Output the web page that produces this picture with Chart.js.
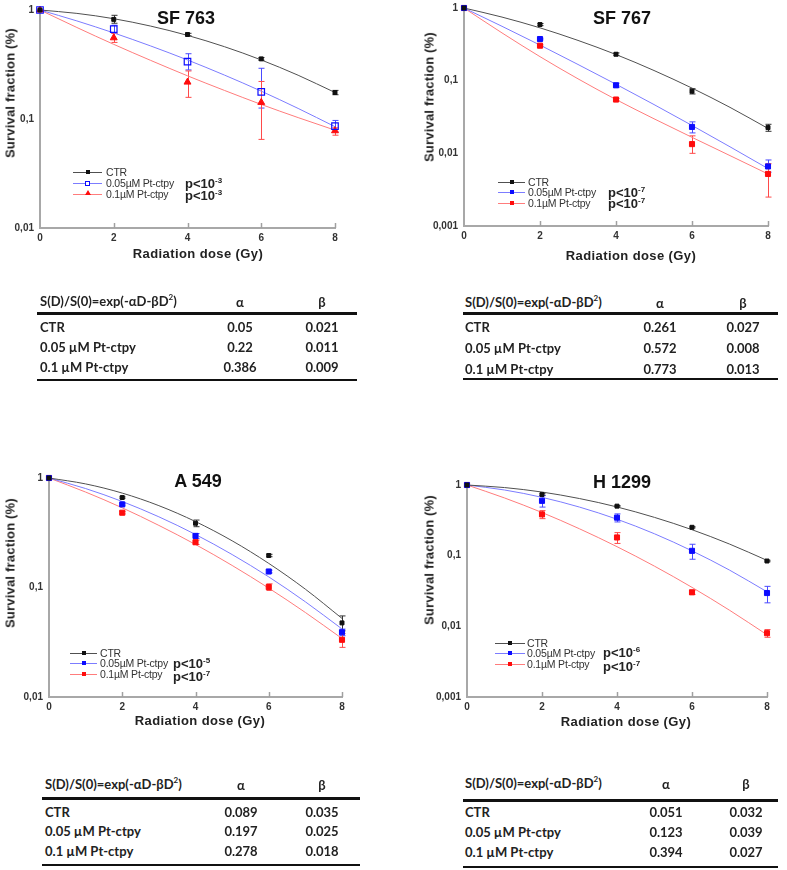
<!DOCTYPE html>
<html><head><meta charset="utf-8">
<script src="https://cdn.jsdelivr.net/npm/chart.js@4.4.1/dist/chart.umd.min.js"></script>
<style>
html,body{margin:0;padding:0;background:#fff;}
body{width:787px;height:870px;position:relative;overflow:hidden;font-family:"Liberation Sans",Arial,sans-serif;}
.abs{position:absolute;white-space:nowrap;}
.title{font-weight:bold;font-size:18px;color:#111;transform:translate(-50%,-50%);}
.ytitle{font-weight:bold;font-size:13px;color:#222;transform:translate(-50%,-50%) rotate(-90deg);letter-spacing:0.2px;}
.xtitle{font-weight:bold;font-size:13px;color:#222;transform:translate(-50%,-50%);letter-spacing:0.4px;}
.leg{font-size:10.5px;color:#333;transform:translateY(-50%);letter-spacing:-0.2px;}
.pval{font-weight:bold;font-size:13px;color:#222;transform:translateY(-50%);}
.pval sup{font-size:8px;vertical-align:5px;}
.tb{font-family:Lato,"Open Sans",sans-serif;font-weight:bold;font-size:13px;color:#222;transform:translateY(-50%);}
.tbc{font-family:Lato,"Open Sans",sans-serif;font-weight:bold;font-size:13px;color:#222;transform:translate(-50%,-50%);}
.tb sup{font-size:8px;vertical-align:6px;}
.rule{position:absolute;background:#111;}
</style>
</head><body>
<script>
// ================= DATA =================
const doses = [0, 2, 4, 6, 8];
const fitDoses = [0, 1, 2, 3, 4, 5, 6, 7, 8];
const xTickLabels = ['0', '2', '4', '6', '8'];
const yTicks2 = [0.01, 0.1, 1];
const yTickLabels2 = ['0,01', '0,1', '1'];
const yTicks3 = [0.001, 0.01, 0.1, 1];
const yTickLabels3 = ['0,001', '0,01', '0,1', '1'];
const legendLabels = ['CTR', '0.05µM Pt-ctpy', '0.1µM Pt-ctpy'];
const tableRowLabels = ['CTR', '0.05 µM Pt-ctpy', '0.1 µM Pt-ctpy'];
const tableHeader = 'S(D)/S(0)=exp(-αD-βD<sup>2</sup>)';

// SF 763
const sf763CtrPts  = [1, 0.82, 0.596, 0.356, 0.175];
const sf763CtrErr  = [[0,0],[0.064,0.074],[0.015,0.015],[0.01,0.01],[0.008,0.008]];
const sf763CtrFit  = [1, 0.931, 0.832, 0.712, 0.585, 0.461, 0.348, 0.252, 0.175];
const sf763BluePts = [1, 0.667, 0.336, 0.177, 0.086];
const sf763BlueErr = [[0,0],[0.058,0.058],[0.054,0.061],[0.051,0.115],[0.0096,0.011]];
const sf763BlueFit = [1, 0.794, 0.616, 0.468, 0.348, 0.253, 0.180, 0.125, 0.085];
const sf763RedPts  = [1, 0.556, 0.218, 0.142, 0.078];
const sf763RedErr  = [[0,0],[0.052,0.053],[0.06,0.058],[0.077,0.079],[0.007,0.005]];
const sf763RedFit  = [1, 0.691, 0.484, 0.345, 0.249, 0.183, 0.136, 0.103, 0.079];
const sf763Alpha = ['0.05', '0.22', '0.386'];
const sf763Beta  = ['0.021', '0.011', '0.009'];
const sf763P     = ['-3', '-3'];

// SF 767
const sf767CtrPts  = [1, 0.592, 0.231, 0.0716, 0.0226];
const sf767CtrErr  = [[0,0],[0.02,0.02],[0.01,0.01],[0.006,0.006],[0.0025,0.0025]];
const sf767CtrFit  = [1, 0.750, 0.533, 0.358, 0.229, 0.138, 0.079, 0.0429, 0.022];
const sf767BluePts = [1, 0.374, 0.0864, 0.0231, 0.0066];
const sf767BlueErr = [[0,0],[0.01,0.01],[0.006,0.006],[0.004,0.004],[0.0011,0.0015]];
const sf767BlueFit = [1, 0.560, 0.309, 0.167, 0.0893, 0.0469, 0.0242, 0.0123, 0.00617];
const sf767RedPts  = [1, 0.303, 0.055, 0.0134, 0.0052];
const sf767RedErr  = [[0,0],[0.008,0.008],[0.002,0.002],[0.0034,0.004],[0.0027,0.002]];
const sf767RedFit  = [1, 0.454, 0.214, 0.106, 0.055, 0.0299, 0.0166, 0.0093, 0.0052];
const sf767Alpha = ['0.261', '0.572', '0.773'];
const sf767Beta  = ['0.027', '0.008', '0.013'];
const sf767P     = ['-7', '-7'];

// A 549
const a549CtrPts  = [1, 0.663, 0.386, 0.196, 0.0475];
const a549CtrErr  = [[0,0],[0.01,0.01],[0.027,0.027],[0.005,0.005],[0.0073,0.0075]];
const a549CtrFit  = [1, 0.883, 0.728, 0.559, 0.400, 0.267, 0.166, 0.0965, 0.0522];
const a549BluePts = [1, 0.574, 0.296, 0.14, 0.039];
const a549BlueErr = [[0,0],[0.01,0.01],[0.015,0.015],[0.004,0.004],[0.0027,0.0027]];
const a549BlueFit = [1, 0.801, 0.610, 0.442, 0.305, 0.200, 0.125, 0.074, 0.0418];
const a549RedPts  = [1, 0.482, 0.259, 0.101, 0.0333];
const a549RedErr  = [[0,0],[0.012,0.012],[0.012,0.012],[0.007,0.007],[0.0049,0.0047]];
const a549RedFit  = [1, 0.744, 0.534, 0.369, 0.247, 0.159, 0.0987, 0.0591, 0.0342];
const a549Alpha = ['0.089', '0.197', '0.278'];
const a549Beta  = ['0.035', '0.025', '0.018'];
const a549P     = ['-5', '-7'];

// H 1299
const h1299CtrPts  = [1, 0.732, 0.502, 0.252, 0.084];
const h1299CtrErr  = [[0,0],[0.02,0.02],[0.01,0.01],[0.005,0.005],[0.002,0.002]];
const h1299CtrFit  = [1, 0.920, 0.795, 0.643, 0.489, 0.348, 0.233, 0.146, 0.0858];
const h1299BluePts = [1, 0.597, 0.345, 0.117, 0.0296];
const h1299BlueErr = [[0,0],[0.11,0.11],[0.045,0.045],[0.028,0.028],[0.0081,0.0072]];
const h1299BlueFit = [1, 0.850, 0.669, 0.487, 0.328, 0.204, 0.117, 0.0625, 0.0308];
const h1299RedPts  = [1, 0.384, 0.181, 0.0303, 0.008];
const h1299RedErr  = [[0,0],[0.05,0.05],[0.032,0.031],[0.002,0.002],[0.001,0.001]];
const h1299RedFit  = [1, 0.656, 0.408, 0.240, 0.134, 0.071, 0.0356, 0.0169, 0.0076];
const h1299Alpha = ['0.051', '0.123', '0.394'];
const h1299Beta  = ['0.032', '0.039', '0.027'];
const h1299P     = ['-6', '-7'];

// ================= STYLES / LAYOUT =================
const baseStyles = {
  ctr:  {line:'#505050', point:'#111111', err:'#333333', pointStyle:'rect', radius:2.8, open:false},
  blue: {line:'#7c7cff', point:'#0c0cff', err:'#4a4aff', pointStyle:'rect', radius:3.6, open:false},
  red:  {line:'#ff7c7c', point:'#ff0c0c', err:'#ff4a4a', pointStyle:'rect', radius:3.6, open:false}
};
const sf763Styles = {
  ctr: baseStyles.ctr,
  blue: Object.assign({}, baseStyles.blue, {pointStyle:'rect', radius:4.6, open:true}),
  red: Object.assign({}, baseStyles.red, {pointStyle:'triangle', radius:4})
};

const panels = [
  {title:'SF 763', titlePos:[186,18], yTitlePos:[10,93], xTitlePos:[198,253],
   area:{l:40, r:335, t:8, b:228}, yMin:0.01, yTicks:yTicks2, yLabels:yTickLabels2,
   series:[[sf763CtrPts,sf763CtrErr,sf763CtrFit],[sf763BluePts,sf763BlueErr,sf763BlueFit],[sf763RedPts,sf763RedErr,sf763RedFit]],
   styles:sf763Styles, p:sf763P,
   legend:{x0:73, x1:102, tx:106, ys:[172,183,194], px:185, pys:[183,195]},
   table:{x:40, lx:37, rx:357, hy:300, l1:313, rows:[327,347,367], l2:380, ax:240, bx:322},
   alpha:sf763Alpha, beta:sf763Beta},
  {title:'SF 767', titlePos:[622,18], yTitlePos:[429,97], xTitlePos:[631,255],
   area:{l:464, r:768, t:6, b:226}, yMin:0.001, yTicks:yTicks3, yLabels:yTickLabels3,
   series:[[sf767CtrPts,sf767CtrErr,sf767CtrFit],[sf767BluePts,sf767BlueErr,sf767BlueFit],[sf767RedPts,sf767RedErr,sf767RedFit]],
   styles:baseStyles, p:sf767P,
   legend:{x0:498, x1:525, tx:528, ys:[182,192,203], px:608, pys:[192,203]},
   table:{x:465, lx:463, rx:778, hy:301, l1:313, rows:[327,348,369], l2:379, ax:660, bx:743},
   alpha:sf767Alpha, beta:sf767Beta},
  {title:'A 549', titlePos:[198,481], yTitlePos:[10,563], xTitlePos:[200,720],
   area:{l:49, r:342, t:476, b:697}, yMin:0.01, yTicks:yTicks2, yLabels:yTickLabels2,
   series:[[a549CtrPts,a549CtrErr,a549CtrFit],[a549BluePts,a549BlueErr,a549BlueFit],[a549RedPts,a549RedErr,a549RedFit]],
   styles:baseStyles, p:a549P,
   legend:{x0:70, x1:97, tx:100, ys:[653,663,674], px:173, pys:[663,676]},
   table:{x:45, lx:42, rx:360, hy:783, l1:798, rows:[812,831,851], l2:865, ax:241, bx:322},
   alpha:a549Alpha, beta:a549Beta},
  {title:'H 1299', titlePos:[622,482], yTitlePos:[429,560], xTitlePos:[626,721],
   area:{l:467, r:767, t:483, b:697}, yMin:0.001, yTicks:yTicks3, yLabels:yTickLabels3,
   series:[[h1299CtrPts,h1299CtrErr,h1299CtrFit],[h1299BluePts,h1299BlueErr,h1299BlueFit],[h1299RedPts,h1299RedErr,h1299RedFit]],
   styles:baseStyles, p:h1299P,
   legend:{x0:495, x1:525, tx:527, ys:[643,653,664], px:603, pys:[652,666]},
   table:{x:465, lx:463, rx:778, hy:782, l1:800, rows:[812,832,852], l2:867, ax:666, bx:746},
   alpha:h1299Alpha, beta:h1299Beta}
];

// ================= RENDER =================
const errorBarPlugin = {
  id:'errbars',
  beforeDatasetsDraw(chart){
    const {ctx, scales:{x, y}} = chart;
    ctx.save();
    chart.data.datasets.forEach(ds => {
      if (!ds.errBars) return;
      ctx.strokeStyle = ds.errColor; ctx.lineWidth = 1;
      ds.data.forEach((pt, i) => {
        const [dn, up] = ds.errBars[i];
        if (!dn && !up) return;
        const px = Math.round(x.getPixelForValue(pt.x)) + 0.5;
        const yt = y.getPixelForValue(pt.y + up);
        const yb = y.getPixelForValue(Math.max(pt.y - dn, 1e-6));
        ctx.beginPath();
        ctx.moveTo(px, yt); ctx.lineTo(px, yb);
        ctx.moveTo(px - 3, yt); ctx.lineTo(px + 3, yt);
        ctx.moveTo(px - 3, yb); ctx.lineTo(px + 3, yb);
        ctx.stroke();
      });
    });
    // inward tick marks on x axis
    ctx.strokeStyle = '#a0a0a0'; ctx.lineWidth = 1.5;
    doses.forEach(d => {
      if (d === 0) return;
      const px = Math.round(x.getPixelForValue(d)) + 0.5;
      ctx.beginPath(); ctx.moveTo(px, chart.chartArea.bottom); ctx.lineTo(px, chart.chartArea.bottom - 5); ctx.stroke();
    });
    ctx.restore();
  }
};

function addDiv(cls, x, y, html) {
  const d = document.createElement('div');
  d.className = 'abs ' + cls;
  d.style.left = x + 'px'; d.style.top = y + 'px';
  d.innerHTML = html;
  document.body.appendChild(d);
  return d;
}
function addRule(x0, x1, y, h, color) {
  const d = document.createElement('div');
  d.className = 'rule';
  d.style.left = x0 + 'px'; d.style.width = (x1 - x0) + 'px';
  d.style.top = (y - h / 2) + 'px'; d.style.height = h + 'px';
  if (color) d.style.background = color;
  document.body.appendChild(d);
}

const tickFont = {family:'"Liberation Sans", Arial, sans-serif', size:10, weight:'bold'};
const keys = ['ctr', 'blue', 'red'];

panels.forEach((p, pi) => {
  const padL = 44, padT = 10, padR = 14, padB = 22;
  const w = p.area.r - p.area.l + padL + padR;
  const h = p.area.b - p.area.t + padT + padB;
  const wrap = document.createElement('div');
  wrap.style.cssText = `position:absolute;left:${p.area.l - padL}px;top:${p.area.t - padT}px;width:${w}px;height:${h}px;`;
  const cv = document.createElement('canvas');
  cv.width = w; cv.height = h; cv.style.width = w + 'px'; cv.style.height = h + 'px';
  wrap.appendChild(cv); document.body.appendChild(wrap);

  const datasets = [];
  p.series.forEach((s, si) => {
    const st = p.styles[keys[si]];
    const [pts, err, fit] = s;
    datasets.push({
      data: fitDoses.map((d, i) => ({x:d, y:fit[i]})),
      borderColor: st.line, borderWidth: 1, pointRadius: 0, tension: 0.4,
      cubicInterpolationMode: 'monotone', fill: false, clip: false, order: 2
    });
    datasets.push({
      data: doses.map((d, i) => ({x:d, y:pts[i]})),
      showLine: false, pointStyle: st.pointStyle, pointRadius: st.radius,
      pointBackgroundColor: st.open ? 'rgba(255,255,255,0)' : st.point,
      pointBorderColor: st.point, pointBorderWidth: st.open ? 1.2 : 1,
      errBars: err, errColor: st.err, clip: false, order: 1
    });
  });

  new Chart(cv, {
    type: 'line',
    data: {datasets},
    options: {
      responsive: false, animation: false, devicePixelRatio: 1,
      layout: {padding: {left: 0, top: padT, right: padR, bottom: 0}},
      plugins: {legend: {display: false}, tooltip: {enabled: false}},
      scales: {
        x: {
          type: 'linear', min: 0, max: 8,
          afterFit: s => { s.height = padB; },
          afterBuildTicks: s => { s.ticks = doses.map(v => ({value: v})); },
          ticks: {callback: (v, i) => xTickLabels[i], font: tickFont, color: '#333', padding: 4, maxRotation: 0, autoSkip: false},
          grid: {display: false, drawTicks: false},
          border: {display: true, color: '#a8a8a8', width: 2}
        },
        y: {
          type: 'logarithmic', min: p.yMin, max: 1,
          afterFit: s => { s.width = padL; },
          afterBuildTicks: s => { s.ticks = p.yTicks.map(v => ({value: v})); },
          ticks: {callback: (v, i) => p.yLabels[i], font: tickFont, color: '#333', padding: 6, autoSkip: false},
          grid: {display: false, drawTicks: false},
          border: {display: true, color: '#a8a8a8', width: 2}
        }
      }
    },
    plugins: [errorBarPlugin]
  });

  // texts
  addDiv('title', p.titlePos[0], p.titlePos[1], p.title);
  addDiv('ytitle', p.yTitlePos[0], p.yTitlePos[1], 'Survival fraction (%)');
  addDiv('xtitle', p.xTitlePos[0], p.xTitlePos[1], 'Radiation dose (Gy)');

  // legend
  const L = p.legend;
  legendLabels.forEach((lab, i) => {
    const st = p.styles[keys[i]];
    const y = L.ys[i];
    addRule(L.x0, L.x1, y, 1, st.line);
    const m = document.createElement('div');
    const mx = (L.x0 + L.x1) / 2;
    if (st.pointStyle === 'triangle') {
      m.style.cssText = `position:absolute;left:${mx - 3}px;top:${y - 4}px;width:0;height:0;border-left:3px solid transparent;border-right:3px solid transparent;border-bottom:5px solid ${st.point};`;
    } else {
      const sz = st.open ? 5 : 4;
      m.style.cssText = `position:absolute;left:${mx - sz / 2}px;top:${y - sz / 2}px;width:${st.open ? sz - 2 : sz}px;height:${st.open ? sz - 2 : sz}px;` +
        (st.open ? `border:1px solid ${st.point};background:#fff;` : `background:${st.point};`);
    }
    document.body.appendChild(m);
    addDiv('leg', L.tx, y, lab);
  });
  p.p.forEach((e, i) => addDiv('pval', L.px, L.pys[i], 'p&lt;10<sup>' + e + '</sup>'));

  // table
  const T = p.table;
  addDiv('tb', T.x, T.hy, tableHeader);
  addDiv('tbc', T.ax, T.hy + 2, 'α');
  addDiv('tbc', T.bx, T.hy + 2, 'β');
  addRule(T.lx, T.rx, T.l1, 3);
  tableRowLabels.forEach((lab, i) => {
    addDiv('tb', T.x, T.rows[i], lab);
    addDiv('tbc', T.ax, T.rows[i], p.alpha[i]);
    addDiv('tbc', T.bx, T.rows[i], p.beta[i]);
  });
  addRule(T.lx, T.rx, T.l2, 2);
});
</script>
</body></html>
